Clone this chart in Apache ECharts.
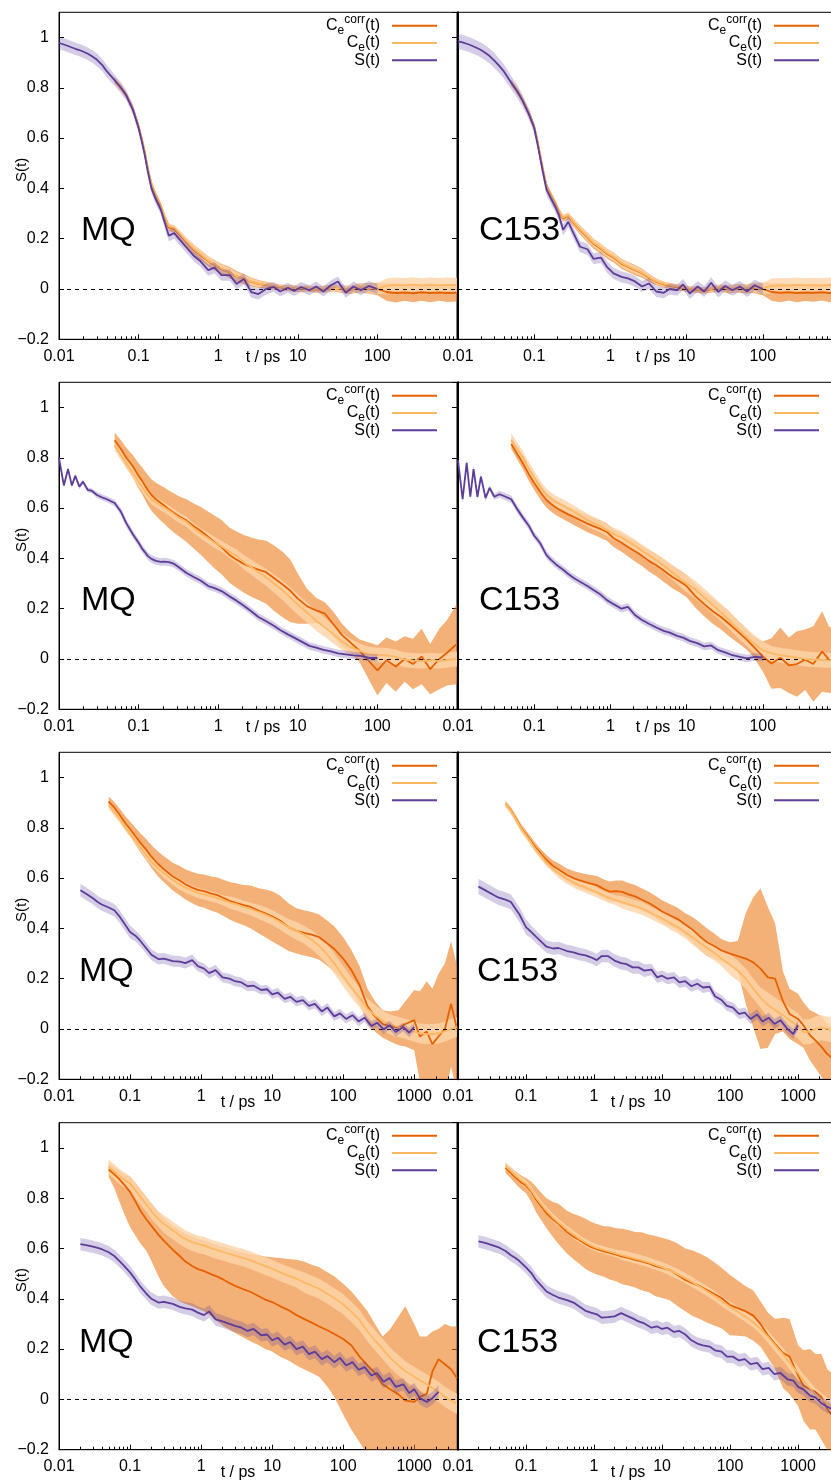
<!DOCTYPE html>
<html><head><meta charset="utf-8">
<script src="https://cdn.jsdelivr.net/npm/echarts@6/dist/echarts.min.js"></script>
<style>html,body{margin:0;padding:0;background:#fff}#c{width:831px;height:1481px}</style>
</head><body><div id="c"></div>
<script>
// ---------------- tick labels ----------------
const xTickValues = [0.01, 0.1, 1, 10, 100, 1000];
const xTickText = ['0.01', '0.1', '1', '10', '100', '1000'];
const xMinorTicks = [0.02,0.03,0.04,0.05,0.06,0.07,0.08,0.09,
 0.2,0.3,0.4,0.5,0.6,0.7,0.8,0.9,
 2,3,4,5,6,7,8,9,
 20,30,40,50,60,70,80,90,
 200,300,400,500,600,700,800,900,
 2000,3000];
const yTickValues = [-0.2, 0, 0.2, 0.4, 0.6, 0.8, 1];
const yTickText = ['\u22120.2', '0', '0.2', '0.4', '0.6', '0.8', '1'];
const panelLabels = ['MQ', 'C153'];
const legendNames = ['Ccorr', 'Ce', 'S'];

// ---------------- time grids (ps) ----------------
const tS_A = [0.01,0.0115,0.013,0.0145,0.016,0.018,0.02,0.023,0.026,0.03,
 0.035,0.04,0.05,0.06,0.07,0.085,0.1,0.11,0.12,0.13,
 0.145,0.165,0.19,0.21,0.24,0.28,0.33,0.4,0.5,0.6,
 0.75,0.9,1.1,1.4,1.7,2.1,2.6,3.2,4,5,
 6,7.5,9,11,14,17,21,26,32,40,
 50,62,78,100];
const tC_A = [0.05,0.06,0.07,0.085,0.1,0.11,0.12,0.13,0.145,0.165,
 0.19,0.21,0.24,0.28,0.33,0.4,0.5,0.6,0.75,0.9,
 1.1,1.4,1.7,2.1,2.6,3.2,4,5,6.5,8,
 10,13,17,22,28,36,46,60,75,100,
 130,170,220,280,360,460,600,750,1000];
const tS_B = [0.02,0.025,0.03,0.035,0.04,0.05,0.06,0.07,0.08,0.1,
 0.12,0.14,0.17,0.2,0.25,0.3,0.4,0.5,0.6,0.75,
 0.9,1.1,1.3,1.6,2,2.5,3,3.7,4.5,5.5,
 7,8.5,10,12,15,18,22,27,33,40,
 50,60,75,90,110,135,165,200,250,300,
 370,450,550,700,850,1000,1200,1500,1800,2200,
 2700,3300,4000];
const tC_B = [0.05,0.06,0.07,0.085,0.1,0.12,0.14,0.17,0.2,0.25,
 0.3,0.4,0.5,0.6,0.75,0.9,1.1,1.4,1.7,2.1,
 2.6,3.2,4,5,6.5,8,10,13,17,22,
 28,36,46,60,75,100,130,170,220,280,
 360,460,600,750,1000,1200,1500,1800,2200,2700,
 3300,4000];

// ---------------- Row 1, MQ ----------------
const MQ1_S = [0.978,0.972,0.966,0.960,0.955,0.950,0.944,0.935,0.925,0.911,
 0.890,0.865,0.830,0.800,0.770,0.712,0.640,0.585,0.530,0.470,
 0.400,0.355,0.315,0.270,0.212,0.222,0.195,0.165,0.130,0.110,
 0.075,0.085,0.055,0.055,0.020,0.040,-0.012,-0.020,0.000,0.008,
 -0.010,0.005,-0.008,0.008,-0.005,0.010,-0.010,0.015,0.030,-0.015,
 0.010,-0.005,0.012,0.000];
const MQ1_Sb = [0.025,0.025,0.025,0.025,0.025,0.025,0.025,0.025,0.025,0.025,
 0.024,0.024,0.022,0.022,0.02,0.02,0.02,0.02,0.02,0.02,
 0.02,0.02,0.02,0.022,0.022,0.022,0.022,0.022,0.022,0.022,
 0.022,0.022,0.022,0.022,0.022,0.022,0.022,0.022,0.022,0.02,
 0.02,0.02,0.02,0.02,0.02,0.02,0.02,0.02,0.02,0.02,
 0.02,0.02,0.02,0.02];
const MQ1_Cc = [0.830,0.800,0.770,0.715,0.645,0.595,0.540,0.480,0.415,0.370,
 0.330,0.290,0.245,0.238,0.215,0.185,0.155,0.135,0.110,0.095,
 0.080,0.065,0.050,0.040,0.028,0.020,0.015,0.010,0.005,0.003,
 0.000,0.002,-0.003,0.000,0.004,0.000,-0.004,0.005,0.002,0.000,
 -0.012,-0.016,-0.014,-0.017,-0.013,-0.016,-0.014,-0.016,-0.015];
const MQ1_Ccb = [0.012,0.012,0.012,0.012,0.012,0.012,0.012,0.012,0.012,0.012,
 0.012,0.012,0.013,0.014,0.016,0.018,0.02,0.02,0.02,0.02,
 0.02,0.022,0.022,0.02,0.018,0.016,0.014,0.012,0.012,0.012,
 0.012,0.012,0.012,0.014,0.014,0.016,0.016,0.018,0.02,0.025,
 0.035,0.038,0.033,0.036,0.034,0.037,0.033,0.036,0.035];
const MQ1_Ce = [0.832,0.802,0.772,0.717,0.648,0.598,0.543,0.484,0.420,0.375,
 0.335,0.295,0.250,0.242,0.218,0.188,0.158,0.138,0.112,0.097,
 0.082,0.066,0.051,0.041,0.029,0.021,0.016,0.011,0.006,0.004,
 0.001,0.003,-0.002,0.001,0.005,0.001,-0.003,0.006,0.003,0.001,
 0.012,0.016,0.014,0.017,0.013,0.016,0.014,0.016,0.015];
const MQ1_Ceb = [0.01,0.01,0.01,0.01,0.01,0.01,0.01,0.01,0.01,0.01,
 0.01,0.01,0.011,0.012,0.014,0.015,0.016,0.016,0.016,0.016,
 0.016,0.016,0.016,0.015,0.014,0.012,0.01,0.01,0.01,0.01,
 0.01,0.01,0.01,0.012,0.012,0.014,0.014,0.016,0.018,0.022,
 0.03,0.03,0.03,0.03,0.03,0.03,0.03,0.03,0.03];

// ---------------- Row 1, C153 ----------------
const C1_S = [0.984,0.980,0.975,0.970,0.964,0.957,0.950,0.938,0.926,0.908,
 0.886,0.865,0.820,0.785,0.750,0.695,0.640,0.580,0.520,0.465,
 0.395,0.360,0.325,0.295,0.235,0.267,0.220,0.168,0.158,0.120,
 0.125,0.088,0.062,0.048,0.042,0.030,0.010,0.022,-0.010,-0.015,
 0.000,-0.005,0.018,-0.018,0.010,-0.010,0.025,-0.012,0.012,-0.005,
 0.010,-0.010,0.015,0.000];
const C1_Sb = [0.03,0.03,0.03,0.03,0.03,0.03,0.03,0.03,0.03,0.03,
 0.028,0.028,0.026,0.026,0.024,0.022,0.02,0.02,0.02,0.02,
 0.022,0.022,0.022,0.022,0.022,0.022,0.022,0.022,0.022,0.022,
 0.022,0.022,0.022,0.022,0.022,0.022,0.022,0.022,0.022,0.022,
 0.022,0.022,0.022,0.022,0.022,0.022,0.022,0.022,0.022,0.022,
 0.022,0.022,0.022,0.022];
const C1_Cc = [0.820,0.787,0.752,0.700,0.645,0.590,0.530,0.475,0.410,0.375,
 0.340,0.310,0.280,0.290,0.262,0.234,0.205,0.180,0.160,0.140,
 0.125,0.100,0.088,0.075,0.063,0.045,0.028,0.018,0.010,0.006,
 0.000,-0.003,-0.006,0.000,0.004,-0.002,0.003,0.000,0.004,0.000,
 -0.012,-0.015,-0.013,-0.016,-0.014,-0.015,-0.013,-0.016,-0.015];
const C1_Ccb = [0.012,0.012,0.012,0.012,0.012,0.012,0.012,0.012,0.012,0.012,
 0.012,0.012,0.013,0.014,0.016,0.018,0.02,0.02,0.02,0.02,
 0.02,0.02,0.02,0.02,0.018,0.016,0.014,0.012,0.012,0.012,
 0.012,0.012,0.012,0.014,0.014,0.016,0.016,0.018,0.02,0.025,
 0.035,0.038,0.033,0.037,0.034,0.036,0.033,0.037,0.035];
const C1_Ce = [0.822,0.789,0.754,0.702,0.648,0.593,0.533,0.478,0.413,0.378,
 0.343,0.313,0.283,0.293,0.265,0.237,0.208,0.183,0.163,0.143,
 0.128,0.103,0.090,0.077,0.065,0.047,0.030,0.020,0.012,0.008,
 0.002,-0.001,-0.004,0.002,0.006,0.000,0.005,0.002,0.006,0.002,
 0.012,0.014,0.013,0.016,0.014,0.015,0.013,0.016,0.015];
const C1_Ceb = [0.01,0.01,0.01,0.01,0.01,0.01,0.01,0.01,0.01,0.01,
 0.01,0.01,0.011,0.012,0.014,0.015,0.016,0.016,0.016,0.016,
 0.016,0.016,0.016,0.015,0.014,0.012,0.01,0.01,0.01,0.01,
 0.01,0.01,0.01,0.012,0.012,0.014,0.014,0.016,0.018,0.022,
 0.03,0.03,0.03,0.03,0.03,0.03,0.03,0.03,0.03];

// ---------------- Row 2, MQ ----------------
const MQ2_S = [0.800,0.690,0.755,0.690,0.728,0.685,0.705,0.672,0.668,0.652,
 0.642,0.635,0.620,0.585,0.540,0.495,0.462,0.440,0.425,0.410,
 0.398,0.390,0.386,0.387,0.385,0.378,0.362,0.342,0.325,0.312,
 0.290,0.282,0.270,0.248,0.232,0.212,0.190,0.167,0.150,0.132,
 0.115,0.098,0.085,0.070,0.052,0.045,0.036,0.030,0.022,0.018,
 0.014,0.012,0.004,0.004];
const MQ2_Sb = [0.01,0.01,0.01,0.01,0.01,0.01,0.01,0.01,0.01,0.012,
 0.012,0.012,0.013,0.014,0.015,0.015,0.015,0.015,0.015,0.015,
 0.015,0.015,0.015,0.015,0.015,0.015,0.015,0.015,0.015,0.015,
 0.015,0.015,0.015,0.015,0.015,0.015,0.015,0.015,0.015,0.015,
 0.015,0.015,0.015,0.015,0.015,0.015,0.015,0.015,0.015,0.015,
 0.015,0.015,0.015,0.015];
const MQ2_Cc = [0.870,0.835,0.800,0.765,0.728,0.710,0.690,0.672,0.652,0.635,
 0.620,0.610,0.595,0.580,0.565,0.550,0.527,0.510,0.485,0.465,
 0.445,0.412,0.395,0.378,0.365,0.355,0.345,0.322,0.295,0.272,
 0.240,0.210,0.193,0.180,0.138,0.095,0.065,0.032,-0.002,-0.045,
 -0.005,-0.030,0.000,-0.020,0.010,-0.040,0.000,0.025,0.060];
const MQ2_Ccb = [0.03,0.035,0.04,0.045,0.05,0.053,0.056,0.06,0.063,0.066,
 0.07,0.072,0.075,0.078,0.08,0.085,0.09,0.095,0.1,0.105,
 0.108,0.11,0.112,0.115,0.118,0.12,0.125,0.13,0.13,0.125,
 0.1,0.07,0.05,0.045,0.05,0.045,0.04,0.045,0.07,0.1,
 0.09,0.1,0.09,0.1,0.11,0.1,0.12,0.13,0.16];
const MQ2_Ce = [0.850,0.810,0.778,0.738,0.705,0.685,0.668,0.652,0.635,0.622,
 0.610,0.602,0.590,0.575,0.560,0.545,0.518,0.500,0.480,0.463,
 0.448,0.425,0.410,0.385,0.365,0.345,0.325,0.300,0.272,0.245,
 0.216,0.185,0.152,0.125,0.098,0.070,0.047,0.032,0.020,0.016,
 0.014,0.008,-0.003,-0.006,-0.008,-0.005,-0.008,-0.004,0.000];
const MQ2_Ceb = [0.02,0.02,0.02,0.02,0.02,0.02,0.02,0.02,0.02,0.02,
 0.02,0.02,0.02,0.02,0.02,0.02,0.02,0.02,0.022,0.022,
 0.022,0.024,0.026,0.028,0.03,0.032,0.034,0.036,0.038,0.04,
 0.04,0.04,0.04,0.038,0.036,0.034,0.032,0.03,0.03,0.03,
 0.03,0.03,0.03,0.03,0.03,0.03,0.03,0.03,0.03];

// ---------------- Row 2, C153 ----------------
const C2_S = [0.790,0.635,0.780,0.645,0.755,0.645,0.725,0.640,0.680,0.645,
 0.655,0.648,0.635,0.595,0.565,0.530,0.490,0.475,0.460,0.440,
 0.413,0.395,0.378,0.368,0.355,0.338,0.322,0.307,0.290,0.274,
 0.255,0.234,0.218,0.200,0.207,0.175,0.155,0.140,0.125,0.112,
 0.105,0.092,0.085,0.072,0.062,0.050,0.054,0.035,0.026,0.015,
 0.008,0.002,0.008,0.006];
const C2_Sb = [0.012,0.012,0.012,0.012,0.012,0.012,0.012,0.012,0.012,0.012,
 0.014,0.014,0.015,0.015,0.015,0.015,0.015,0.015,0.015,0.015,
 0.015,0.015,0.015,0.015,0.015,0.015,0.015,0.015,0.015,0.015,
 0.015,0.015,0.015,0.015,0.015,0.015,0.015,0.015,0.015,0.015,
 0.015,0.015,0.015,0.015,0.015,0.015,0.015,0.015,0.015,0.015,
 0.015,0.015,0.015,0.015];
const C2_Cc = [0.855,0.815,0.782,0.735,0.700,0.682,0.665,0.650,0.632,0.617,
 0.603,0.595,0.586,0.575,0.565,0.552,0.538,0.528,0.516,0.505,
 0.480,0.462,0.445,0.428,0.410,0.390,0.373,0.352,0.326,0.310,
 0.290,0.250,0.218,0.190,0.168,0.140,0.112,0.080,0.050,0.010,
 -0.018,0.005,-0.025,-0.020,-0.003,-0.020,0.030,-0.005,0.010];
const C2_Ccb = [0.02,0.022,0.024,0.026,0.028,0.029,0.03,0.03,0.03,0.03,
 0.03,0.03,0.03,0.03,0.032,0.032,0.034,0.034,0.035,0.035,
 0.035,0.036,0.038,0.04,0.04,0.042,0.044,0.045,0.045,0.045,
 0.045,0.045,0.048,0.05,0.05,0.05,0.045,0.04,0.04,0.06,
 0.1,0.12,0.11,0.13,0.12,0.15,0.16,0.13,0.14];
const C2_Ce = [0.872,0.835,0.805,0.758,0.722,0.703,0.685,0.670,0.652,0.638,
 0.625,0.618,0.610,0.598,0.585,0.570,0.552,0.540,0.527,0.513,
 0.497,0.483,0.467,0.450,0.430,0.412,0.393,0.372,0.345,0.322,
 0.300,0.276,0.245,0.215,0.186,0.155,0.122,0.090,0.063,0.035,
 0.022,0.015,0.010,0.005,0.000,-0.002,-0.004,-0.005,-0.005];
const C2_Ceb = [0.025,0.025,0.025,0.025,0.025,0.025,0.025,0.025,0.025,0.025,
 0.025,0.025,0.025,0.025,0.025,0.025,0.025,0.025,0.025,0.025,
 0.025,0.025,0.025,0.025,0.025,0.025,0.025,0.028,0.03,0.032,
 0.035,0.035,0.035,0.035,0.035,0.035,0.035,0.035,0.035,0.035,
 0.03,0.03,0.03,0.03,0.03,0.03,0.03,0.03,0.03];

// ---------------- Row 3, MQ ----------------
const MQ3_S = [0.552,0.535,0.520,0.505,0.495,0.483,0.472,0.450,0.426,0.386,
 0.370,0.350,0.320,0.295,0.278,0.280,0.270,0.268,0.262,0.274,
 0.250,0.240,0.222,0.234,0.205,0.200,0.190,0.185,0.170,0.172,
 0.155,0.158,0.138,0.145,0.120,0.128,0.108,0.115,0.092,0.100,
 0.070,0.085,0.050,0.062,0.040,0.055,0.030,0.045,0.012,0.025,
 -0.002,0.015,-0.012,0.008,-0.015,0.008];
const MQ3_Sb = [0.025,0.025,0.025,0.025,0.025,0.025,0.025,0.025,0.025,0.025,
 0.022,0.022,0.022,0.022,0.022,0.022,0.022,0.022,0.022,0.022,
 0.02,0.02,0.02,0.02,0.02,0.02,0.02,0.02,0.02,0.02,
 0.018,0.018,0.018,0.018,0.018,0.018,0.018,0.018,0.018,0.018,
 0.018,0.018,0.018,0.018,0.018,0.018,0.018,0.018,0.018,0.018,
 0.018,0.018,0.018,0.018,0.018,0.018];
const MQ3_Cc = [0.904,0.880,0.855,0.820,0.795,0.765,0.740,0.712,0.685,0.655,
 0.635,0.606,0.590,0.575,0.562,0.553,0.548,0.538,0.532,0.520,
 0.508,0.500,0.492,0.485,0.470,0.460,0.448,0.430,0.405,0.390,
 0.382,0.375,0.365,0.340,0.318,0.280,0.235,0.175,0.090,0.050,
 0.020,0.010,0.005,0.020,0.035,-0.030,-0.010,-0.060,-0.030,0.000,
 0.100,0.000];
const MQ3_Ccb = [0.02,0.022,0.025,0.028,0.03,0.034,0.038,0.042,0.045,0.05,
 0.052,0.055,0.058,0.06,0.062,0.064,0.066,0.068,0.07,0.072,
 0.075,0.078,0.08,0.085,0.09,0.095,0.1,0.1,0.095,0.09,
 0.09,0.09,0.09,0.09,0.09,0.085,0.08,0.075,0.07,0.06,
 0.055,0.06,0.07,0.09,0.12,0.18,0.2,0.22,0.25,0.26,
 0.25,0.25];
const MQ3_Ce = [0.890,0.862,0.838,0.805,0.778,0.748,0.722,0.690,0.665,0.638,
 0.620,0.592,0.575,0.562,0.550,0.541,0.535,0.527,0.520,0.510,
 0.502,0.495,0.485,0.477,0.465,0.455,0.443,0.425,0.405,0.390,
 0.375,0.355,0.330,0.295,0.260,0.210,0.165,0.125,0.080,0.055,
 0.033,0.018,0.008,0.000,-0.010,-0.018,-0.020,-0.020,-0.018,-0.010,
 0.000,0.008];
const MQ3_Ceb = [0.015,0.015,0.015,0.015,0.015,0.015,0.015,0.015,0.015,0.015,
 0.02,0.02,0.02,0.02,0.02,0.02,0.02,0.02,0.02,0.02,
 0.025,0.025,0.025,0.025,0.028,0.03,0.03,0.03,0.032,0.035,
 0.035,0.038,0.04,0.04,0.04,0.04,0.04,0.04,0.04,0.04,
 0.04,0.04,0.04,0.04,0.04,0.04,0.04,0.04,0.04,0.04,
 0.04,0.04];

// ---------------- Row 3, C153 ----------------
const C3_S = [0.566,0.552,0.540,0.530,0.522,0.514,0.505,0.478,0.455,0.405,
 0.385,0.367,0.345,0.327,0.320,0.322,0.310,0.305,0.298,0.293,
 0.285,0.274,0.290,0.290,0.272,0.262,0.258,0.245,0.245,0.232,
 0.236,0.205,0.212,0.200,0.205,0.185,0.190,0.170,0.180,0.165,
 0.168,0.130,0.115,0.092,0.085,0.060,0.065,0.040,0.058,0.030,
 0.045,0.020,0.035,0.000,-0.020,0.015];
const C3_Sb = [0.03,0.03,0.03,0.03,0.03,0.03,0.03,0.03,0.03,0.03,
 0.025,0.025,0.025,0.025,0.025,0.025,0.025,0.025,0.025,0.025,
 0.025,0.025,0.025,0.025,0.025,0.025,0.025,0.025,0.025,0.025,
 0.022,0.022,0.022,0.022,0.022,0.022,0.022,0.022,0.022,0.022,
 0.02,0.02,0.02,0.02,0.02,0.02,0.02,0.02,0.02,0.02,
 0.02,0.02,0.02,0.02,0.02,0.02];
const C3_Cc = [0.896,0.870,0.840,0.800,0.775,0.745,0.720,0.693,0.672,0.648,
 0.635,0.612,0.600,0.592,0.584,0.578,0.572,0.556,0.546,0.548,
 0.545,0.535,0.527,0.515,0.500,0.485,0.467,0.452,0.437,0.415,
 0.395,0.368,0.345,0.328,0.312,0.300,0.290,0.280,0.265,0.240,
 0.205,0.200,0.110,0.060,0.040,0.015,-0.025,-0.045,-0.070,-0.100,
 -0.120,-0.130];
const C3_Ccb = [0.01,0.012,0.013,0.014,0.015,0.016,0.017,0.018,0.02,0.022,
 0.024,0.026,0.028,0.03,0.032,0.034,0.036,0.038,0.04,0.042,
 0.045,0.045,0.045,0.045,0.045,0.045,0.045,0.045,0.045,0.045,
 0.05,0.055,0.055,0.05,0.045,0.045,0.06,0.18,0.26,0.32,
 0.28,0.22,0.12,0.1,0.1,0.09,0.1,0.11,0.12,0.12,
 0.12,0.12];
const C3_Ce = [0.896,0.868,0.838,0.797,0.770,0.740,0.713,0.685,0.662,0.637,
 0.620,0.597,0.582,0.572,0.562,0.553,0.543,0.530,0.520,0.512,
 0.503,0.496,0.488,0.480,0.465,0.452,0.440,0.422,0.405,0.385,
 0.365,0.343,0.322,0.300,0.280,0.255,0.232,0.200,0.160,0.125,
 0.095,0.075,0.055,0.035,0.012,-0.012,-0.010,0.000,0.005,0.000,
 -0.005,0.000];
const C3_Ceb = [0.015,0.015,0.015,0.015,0.015,0.015,0.015,0.015,0.015,0.015,
 0.02,0.02,0.02,0.02,0.02,0.02,0.02,0.02,0.02,0.02,
 0.025,0.025,0.025,0.025,0.025,0.025,0.025,0.025,0.025,0.025,
 0.03,0.03,0.03,0.03,0.03,0.04,0.04,0.04,0.04,0.04,
 0.05,0.05,0.05,0.05,0.05,0.05,0.05,0.05,0.05,0.05,
 0.05,0.05];

// ---------------- Row 4, MQ ----------------
const MQ4_S = [0.617,0.612,0.607,0.602,0.597,0.585,0.570,0.552,0.535,0.505,
 0.475,0.448,0.420,0.400,0.385,0.388,0.380,0.368,0.362,0.357,
 0.345,0.335,0.350,0.318,0.310,0.300,0.292,0.285,0.272,0.280,
 0.255,0.258,0.235,0.245,0.218,0.228,0.200,0.210,0.180,0.190,
 0.160,0.172,0.148,0.165,0.135,0.148,0.118,0.128,0.095,0.105,
 0.070,0.085,0.050,0.060,0.025,0.040,0.005,-0.010,0.005,0.030];
const MQ4_Sb = [0.025,0.025,0.025,0.025,0.025,0.025,0.025,0.025,0.025,0.025,
 0.025,0.025,0.025,0.025,0.025,0.025,0.025,0.025,0.025,0.025,
 0.025,0.025,0.025,0.025,0.025,0.025,0.025,0.025,0.025,0.025,
 0.025,0.025,0.025,0.025,0.025,0.025,0.025,0.025,0.025,0.025,
 0.025,0.025,0.025,0.025,0.025,0.025,0.025,0.025,0.025,0.025,
 0.025,0.025,0.025,0.025,0.025,0.025,0.025,0.025,0.025,0.025];
const MQ4_Cc = [0.914,0.895,0.877,0.850,0.825,0.785,0.750,0.715,0.690,0.655,
 0.630,0.595,0.570,0.548,0.530,0.518,0.510,0.497,0.488,0.475,
 0.460,0.448,0.437,0.427,0.410,0.397,0.387,0.370,0.355,0.335,
 0.320,0.305,0.290,0.275,0.260,0.240,0.215,0.170,0.135,0.105,
 0.060,0.040,0.020,-0.005,-0.010,0.010,0.022,0.110,0.160,0.140,
 0.120,0.085];
const MQ4_CcLo = [0.885,0.840,0.790,0.730,0.685,0.650,0.620,0.590,0.550,0.490,
 0.450,0.410,0.390,0.380,0.370,0.360,0.350,0.330,0.310,0.290,
 0.275,0.260,0.245,0.230,0.215,0.200,0.190,0.170,0.155,0.135,
 0.120,0.105,0.090,0.050,0.010,-0.060,-0.120,-0.170,-0.220,-0.250,
 -0.300,-0.300,-0.300,-0.300,-0.300,-0.300,-0.300,-0.300,-0.300,-0.300,
 -0.300,-0.300];
const MQ4_CcHi = [0.940,0.925,0.910,0.895,0.885,0.860,0.835,0.805,0.780,0.745,
 0.720,0.690,0.672,0.660,0.648,0.638,0.632,0.622,0.613,0.605,
 0.597,0.590,0.583,0.577,0.572,0.568,0.565,0.562,0.558,0.555,
 0.548,0.535,0.525,0.505,0.490,0.460,0.430,0.390,0.350,0.300,
 0.250,0.280,0.330,0.370,0.300,0.250,0.250,0.270,0.280,0.300,
 0.290,0.290];
const MQ4_Ce = [0.924,0.905,0.887,0.870,0.858,0.830,0.805,0.775,0.748,0.718,
 0.697,0.672,0.652,0.638,0.625,0.617,0.612,0.600,0.593,0.585,
 0.577,0.570,0.562,0.553,0.540,0.530,0.520,0.505,0.492,0.480,
 0.465,0.452,0.440,0.420,0.402,0.378,0.348,0.315,0.270,0.235,
 0.200,0.165,0.135,0.112,0.090,0.075,0.060,0.045,0.030,0.010,
 -0.005,-0.018];
const MQ4_Ceb = [0.03,0.03,0.03,0.03,0.03,0.03,0.03,0.03,0.03,0.03,
 0.035,0.035,0.035,0.035,0.035,0.035,0.035,0.035,0.035,0.035,
 0.035,0.035,0.035,0.035,0.035,0.035,0.035,0.035,0.035,0.035,
 0.04,0.04,0.04,0.04,0.04,0.04,0.04,0.04,0.04,0.04,
 0.04,0.04,0.04,0.04,0.04,0.04,0.04,0.04,0.04,0.04,
 0.04,0.04];

// ---------------- Row 4, C153 ----------------
const C4_S = [0.628,0.622,0.615,0.609,0.604,0.590,0.573,0.562,0.550,0.525,
 0.502,0.475,0.450,0.429,0.415,0.405,0.395,0.385,0.370,0.352,
 0.345,0.338,0.325,0.327,0.330,0.343,0.333,0.322,0.310,0.302,
 0.285,0.290,0.280,0.285,0.268,0.272,0.258,0.235,0.222,0.215,
 0.210,0.195,0.190,0.170,0.170,0.155,0.160,0.140,0.145,0.120,
 0.125,0.100,0.105,0.080,0.075,0.050,0.040,0.015,0.008,-0.015,
 -0.030,-0.040,-0.050];
const C4_Sb = [0.025,0.025,0.025,0.025,0.025,0.025,0.025,0.025,0.025,0.025,
 0.025,0.025,0.025,0.025,0.025,0.025,0.025,0.025,0.025,0.025,
 0.025,0.025,0.025,0.025,0.025,0.025,0.025,0.025,0.025,0.025,
 0.025,0.025,0.025,0.025,0.025,0.025,0.025,0.025,0.025,0.025,
 0.025,0.025,0.025,0.025,0.025,0.025,0.025,0.025,0.025,0.025,
 0.025,0.025,0.025,0.025,0.025,0.025,0.025,0.025,0.025,0.025,
 0.025,0.025,0.025];
const C4_Cc = [0.920,0.900,0.882,0.862,0.850,0.825,0.795,0.765,0.740,0.715,
 0.698,0.665,0.647,0.635,0.618,0.606,0.597,0.588,0.582,0.575,
 0.568,0.563,0.555,0.549,0.540,0.530,0.523,0.514,0.495,0.475,
 0.462,0.450,0.435,0.418,0.403,0.375,0.363,0.350,0.333,0.300,
 0.255,0.220,0.185,0.170,0.095,0.055,0.040,0.030,0.010,-0.040,
 -0.070,-0.090];
const C4_Ccb = [0.02,0.022,0.025,0.028,0.03,0.04,0.05,0.055,0.06,0.07,
 0.08,0.085,0.09,0.095,0.1,0.1,0.1,0.1,0.105,0.105,
 0.11,0.11,0.11,0.115,0.115,0.12,0.12,0.12,0.125,0.125,
 0.13,0.13,0.13,0.125,0.12,0.12,0.11,0.1,0.1,0.09,
 0.09,0.1,0.14,0.15,0.12,0.14,0.16,0.15,0.17,0.16,
 0.17,0.17];
const C4_Ce = [0.927,0.908,0.890,0.870,0.857,0.830,0.802,0.773,0.750,0.722,
 0.703,0.675,0.655,0.640,0.624,0.612,0.602,0.594,0.587,0.580,
 0.573,0.567,0.560,0.553,0.544,0.535,0.526,0.513,0.498,0.482,
 0.466,0.448,0.430,0.410,0.390,0.368,0.348,0.328,0.306,0.280,
 0.250,0.215,0.180,0.145,0.105,0.075,0.045,0.020,0.000,-0.018,
 -0.030,-0.040];
const C4_Ceb = [0.015,0.015,0.015,0.015,0.015,0.015,0.015,0.015,0.015,0.015,
 0.015,0.015,0.015,0.015,0.015,0.015,0.015,0.015,0.015,0.015,
 0.02,0.02,0.02,0.02,0.02,0.02,0.02,0.02,0.02,0.02,
 0.02,0.02,0.02,0.02,0.02,0.02,0.02,0.02,0.02,0.02,
 0.025,0.025,0.025,0.025,0.025,0.025,0.025,0.025,0.025,0.025,
 0.025,0.025];

// ---------------- panel table ----------------
const panels = [
 {row:0,col:0,tS:tS_A,S:MQ1_S,Sb:MQ1_Sb,tC:tC_A,Cc:MQ1_Cc,Ccb:MQ1_Ccb,Ce:MQ1_Ce,Ceb:MQ1_Ceb},
 {row:0,col:1,tS:tS_A,S:C1_S,Sb:C1_Sb,tC:tC_A,Cc:C1_Cc,Ccb:C1_Ccb,Ce:C1_Ce,Ceb:C1_Ceb},
 {row:1,col:0,tS:tS_A,S:MQ2_S,Sb:MQ2_Sb,tC:tC_A,Cc:MQ2_Cc,Ccb:MQ2_Ccb,Ce:MQ2_Ce,Ceb:MQ2_Ceb},
 {row:1,col:1,tS:tS_A,S:C2_S,Sb:C2_Sb,tC:tC_A,Cc:C2_Cc,Ccb:C2_Ccb,Ce:C2_Ce,Ceb:C2_Ceb},
 {row:2,col:0,tS:tS_B,S:MQ3_S,Sb:MQ3_Sb,tC:tC_B,Cc:MQ3_Cc,Ccb:MQ3_Ccb,Ce:MQ3_Ce,Ceb:MQ3_Ceb},
 {row:2,col:1,tS:tS_B,S:C3_S,Sb:C3_Sb,tC:tC_B,Cc:C3_Cc,Ccb:C3_Ccb,Ce:C3_Ce,Ceb:C3_Ceb},
 {row:3,col:0,tS:tS_B,S:MQ4_S,Sb:MQ4_Sb,tC:tC_B,Cc:MQ4_Cc,CcLo:MQ4_CcLo,CcHi:MQ4_CcHi,Ce:MQ4_Ce,Ceb:MQ4_Ceb},
 {row:3,col:1,tS:tS_B,S:C4_S,Sb:C4_Sb,tC:tC_B,Cc:C4_Cc,Ccb:C4_Ccb,Ce:C4_Ce,Ceb:C4_Ceb}
];

// ---------------- styling ----------------
const FONT = '"Liberation Sans", Arial, Helvetica, sans-serif';
const COL_CORR = '#e66101', COL_CE = '#fdb863', COL_S = '#5e3c99';
const FILL_CORR = 'rgba(234,120,20,0.58)';
const FILL_CE = 'rgba(253,212,170,0.82)';
const FILL_S = 'rgba(94,60,153,0.26)';

function pairs(t, v) { return v.map(function (y, k) { return [t[k], y]; }); }
function xFormatter(maxShown) {
  return function (v) {
    for (let k = 0; k < xTickValues.length; k++) {
      if (Math.abs(v - xTickValues[k]) <= xTickValues[k] * 1e-6 && xTickValues[k] <= maxShown) return xTickText[k];
    }
    return '';
  };
}
function yFormatter(v) {
  for (let k = 0; k < yTickValues.length; k++) {
    if (Math.abs(v - yTickValues[k]) < 1e-9) return yTickText[k];
  }
  return '';
}
function bandSeries(xi, yi, t, lo, hi, fill, z) {
  const pts = lo.map(function (l, k) { return [t[k], l, hi[k]]; });
  return {
    type: 'custom', xAxisIndex: xi, yAxisIndex: yi, silent: true, z: z, clip: true,
    animation: false, data: pts, encode: {x: 0, y: [1, 2]},
    renderItem: function (params, api) {
      if (params.dataIndex !== 0) return null;
      const poly = [];
      for (let k = 0; k < pts.length; k++) poly.push(api.coord([pts[k][0], pts[k][2]]));
      for (let k = pts.length - 1; k >= 0; k--) poly.push(api.coord([pts[k][0], pts[k][1]]));
      const cs = params.coordSys;
      return {
        type: 'polygon', shape: {points: poly}, style: {fill: fill, stroke: null},
        clipPath: {type: 'rect', shape: {x: cs.x, y: cs.y, width: cs.width, height: cs.height}}
      };
    }
  };
}
function minorTickSeries(xi, yi, xmax) {
  const vals = xMinorTicks.filter(function (v) { return v < xmax; });
  return {
    type: 'custom', xAxisIndex: xi, yAxisIndex: yi, silent: true, z: 9, animation: false,
    data: vals.map(function (v) { return [v, -0.2]; }), encode: {x: 0, y: 1},
    renderItem: function (params, api) {
      const p = api.coord([api.value(0), -0.2]);
      const x = Math.round(p[0]) + 0.5;
      return {type: 'line', shape: {x1: x, y1: p[1], x2: x, y2: p[1] - 3},
        style: {stroke: '#000', lineWidth: 1}};
    }
  };
}
function lineSeries(name, xi, yi, t, v, color, z) {
  return {
    type: 'line', name: name, xAxisIndex: xi, yAxisIndex: yi, data: pairs(t, v),
    showSymbol: false, symbol: 'none', color: color, z: z, silent: true, animation: false,
    lineStyle: {color: color, width: 1.8}, clip: true
  };
}
function legendText(name) {
  if (name === 'Ccorr') return '{b|C}{s|e}{p|corr}{b|(t)}';
  if (name === 'Ce') return '{b|C}{s|e}{b|(t)}';
  return '{b|S(t)}';
}
const legendRich = {
  b: {fontSize: 16, lineHeight: 24, fontFamily: FONT, color: '#000'},
  s: {fontSize: 12, lineHeight: 12, fontFamily: FONT, color: '#000', padding: [9, 0, 0, 0]},
  p: {fontSize: 12, lineHeight: 12, fontFamily: FONT, color: '#000', padding: [0, 0, 12, 0]}
};
const legendRowY = [25.7, 43, 60.3];
const legendHalfH = [12, 10.5, 8];   // half of each legend item's box height

const grid = [], xAxis = [], yAxis = [], series = [], legend = [], title = [];
const titleTops = [213.5, 583.8, 954.7, 1325.3];
panels.forEach(function (p, i) {
  const top = 12.3 + 370 * p.row + (p.row === 3 ? 0.4 : 0);
  const left = p.col === 0 ? 59 : 458;
  const width = p.col === 0 ? 398 : 381;
  const xmax = p.row < 2 ? 1000 : 4000;
  grid.push({left: left, top: top, width: width, height: 327, show: true,
    containLabel: false, outerBoundsMode: 'none',
    borderColor: '#000', borderWidth: 1, backgroundColor: 'rgba(0,0,0,0)'});
  const namePad = p.col === 0 ? (p.row < 2 ? [0, 0, 0, 10] : [0, 40, 0, 0])
                              : (p.row < 2 ? [0, 0, 0, 9] : [0, 41, 0, 0]);
  xAxis.push({
    type: 'log', logBase: 10, gridIndex: i, min: 0.01, max: xmax,
    axisLine: {show: true, onZero: false, lineStyle: {color: '#000', width: 1}},
    axisTick: {show: true, inside: true, length: 5, lineStyle: {color: '#000', width: 1}},
    minorTick: {show: false},
    splitLine: {show: false}, minorSplitLine: {show: false},
    axisLabel: {show: true, interval: 0, color: '#000', fontSize: 16, fontFamily: FONT, margin: 9,
      formatter: xFormatter(p.row < 2 ? 100 : 1000)},
    name: 't / ps', nameLocation: 'middle', nameGap: p.row < 2 ? 10 : 15, nameMoveOverlap: false,
    nameTextStyle: {color: '#000', fontSize: 16, fontFamily: FONT, padding: namePad}
  });
  const yi = yAxis.length;
  yAxis.push({
    type: 'value', gridIndex: i, min: -0.2, max: 1.1, interval: 0.2, position: 'left',
    axisLine: {show: true, onZero: false, lineStyle: {color: '#000', width: p.col === 0 ? 1 : 2}},
    axisTick: {show: p.col === 0, inside: true, length: 5, lineStyle: {color: '#000'}},
    splitLine: {show: false},
    axisLabel: {show: p.col === 0, color: '#000', fontSize: 16, fontFamily: FONT, margin: 10,
      showMaxLabel: false, formatter: yFormatter},
    name: p.col === 0 ? 'S(t)' : '', nameLocation: 'middle', nameGap: 30, nameMoveOverlap: false,
    nameTextStyle: {color: '#000', fontSize: 15, fontFamily: FONT, padding: [0, 0, 0, 12]}
  });
  if (p.col === 0) {
    yAxis.push({
      type: 'value', gridIndex: i, min: -0.2, max: 1.1, interval: 0.2, position: 'right',
      axisLine: {show: true, onZero: false, lineStyle: {color: '#000', width: 1}},
      axisTick: {show: true, inside: true, length: 5, lineStyle: {color: '#000'}},
      splitLine: {show: false}, axisLabel: {show: false}
    });
  }
  // zero reference line
  series.push({
    type: 'line', xAxisIndex: i, yAxisIndex: yi, data: [], silent: true, z: 1, animation: false,
    markLine: {silent: true, symbol: ['none', 'none'], animation: false, label: {show: false},
      lineStyle: {color: '#000', width: 1, type: [4, 4]}, data: [{yAxis: 0}]}
  });
  // bands and lines
  const tc = p.tC.slice(0, p.Cc.length);
  const ccLo = p.CcLo ? p.CcLo : p.Cc.map(function (v, k) { return v - p.Ccb[k]; });
  const ccHi = p.CcHi ? p.CcHi : p.Cc.map(function (v, k) { return v + p.Ccb[k]; });
  series.push(bandSeries(i, yi, tc, ccLo, ccHi, FILL_CORR, 2));
  series.push(bandSeries(i, yi, tc,
    p.Ce.map(function (v, k) { return v - p.Ceb[k]; }),
    p.Ce.map(function (v, k) { return v + p.Ceb[k]; }), FILL_CE, 3));
  series.push(lineSeries('Ccorr', i, yi, tc, p.Cc, COL_CORR, 4));
  series.push(lineSeries('Ce', i, yi, tc, p.Ce, COL_CE, 5));
  const ts = p.tS.slice(0, p.S.length);
  series.push(bandSeries(i, yi, ts,
    p.S.map(function (v, k) { return v - p.Sb[k]; }),
    p.S.map(function (v, k) { return v + p.Sb[k]; }), FILL_S, 6));
  series.push(lineSeries('S', i, yi, ts, p.S, COL_S, 7));
  series.push(minorTickSeries(i, yi, xmax));

  legendNames.forEach(function (nm, k) {
    legend.push({
      show: true, orient: 'vertical', align: 'right', right: p.col === 0 ? 394 : 12,
      top: legendRowY[k] - legendHalfH[k] + 370 * p.row, padding: 0, itemWidth: 45, itemHeight: 2,
      icon: 'rect', selectedMode: false, data: [nm], formatter: legendText,
      textStyle: {color: '#000', fontSize: 16, fontFamily: FONT, padding: [0, 7, 0, 0], rich: legendRich}
    });
  });
  title.push({
    text: panelLabels[p.col], left: p.col === 0 ? (p.row < 2 ? 81 : 79) : (p.row < 2 ? 479 : 477),
    top: titleTops[p.row], padding: 0,
    textStyle: {fontSize: 34, fontWeight: 'normal', color: '#000', fontFamily: FONT}
  });
});

const chart = echarts.init(document.getElementById('c'), null, {renderer: 'canvas', width: 831, height: 1481});
chart.setOption({
  backgroundColor: '#fff', animation: false,
  title: title, legend: legend, grid: grid, xAxis: xAxis, yAxis: yAxis, series: series,
  tooltip: {show: false}
});
</script>
</body></html>
